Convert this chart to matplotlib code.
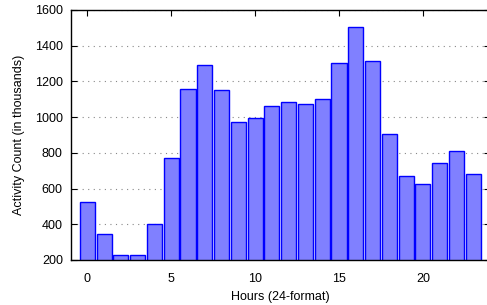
import matplotlib
matplotlib.use("Agg")
import matplotlib.pyplot as plt

plt.rcParams["font.family"] = ["Liberation Sans", "DejaVu Sans"]

hours = list(range(24))
activity = [523, 344, 230, 230, 400, 769, 1158, 1292, 1152, 971, 997, 1062,
            1083, 1075, 1100, 1301, 1503, 1316, 906, 669, 626, 743, 809, 680]
y_ticks = [200, 400, 600, 800, 1000, 1200, 1400, 1600]
x_ticks = [0, 5, 10, 15, 20]

W, H = 487, 305
fig = plt.figure(figsize=(W / 100, H / 100), dpi=100)
left, right, top, bottom = 70.5, 490, 10, 260
ax = fig.add_axes([left / W, 1 - bottom / H, (right - left) / W, (bottom - top) / H])

ax.bar(hours, activity, width=0.9, color="#8080ff", edgecolor="#0000ff",
       linewidth=1.0, zorder=2)

ax.set_xlim(-1, 24)
ax.set_ylim(200, 1600)
ax.set_xticks(x_ticks)
ax.set_yticks(y_ticks)
ax.tick_params(direction="in", length=4, width=0.8, top=True, right=True,
               labelsize=9)
ax.tick_params(axis="x", pad=9)
ax.tick_params(axis="y", pad=5.5)
ax.grid(axis="y", linestyle=(0, (1, 4)), color="#888888", linewidth=0.8, zorder=0)
for s in ax.spines.values():
    s.set_linewidth(1.0)

ax.set_xlabel("Hours (24-format)", fontsize=9, labelpad=5)
ax.set_ylabel("Activity Count (in thousands)", fontsize=9, labelpad=7)

fig.savefig("out.png", dpi=100)
